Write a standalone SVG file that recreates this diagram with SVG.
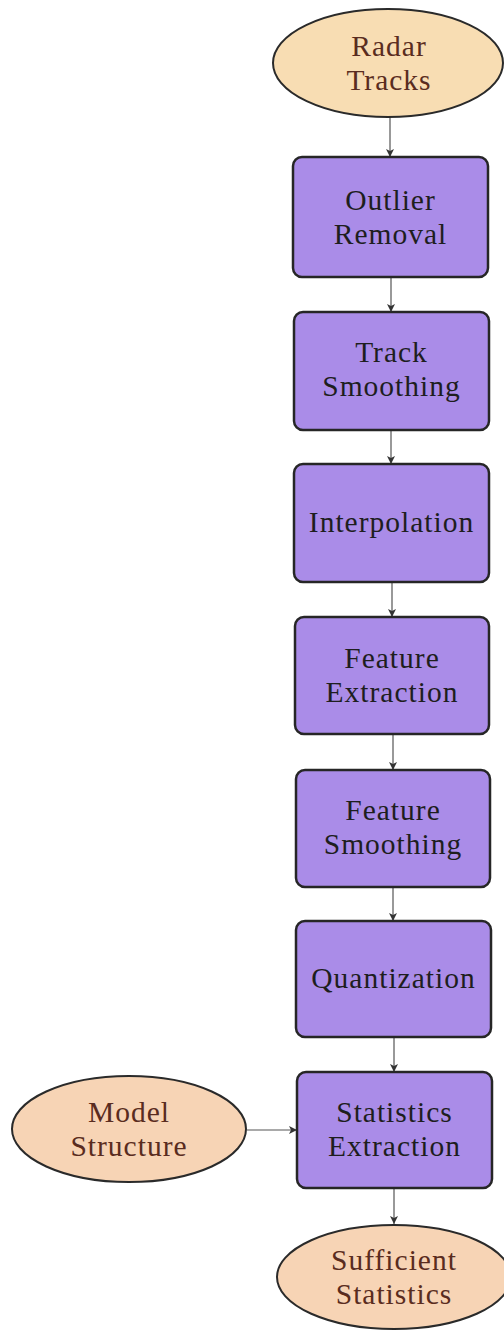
<svg xmlns="http://www.w3.org/2000/svg" width="504" height="1332" viewBox="0 0 504 1332">
  <style>
    .io { fill: #f8ddb3; stroke: #2a2a2a; stroke-width: 2; }
    .io2 { fill: #f7d4b5; stroke: #2a2a2a; stroke-width: 2; }
    .step { fill: #aa8ce8; stroke: #262626; stroke-width: 2.5; }
    .lbl { font-family: "Liberation Serif", "Times New Roman", "DejaVu Serif", serif; font-size: 29.5px; text-anchor: middle; letter-spacing: 1px; }
    .lio { fill: #5a2c20; }
    .lstep { fill: #1e1e1e; }
    .edge { stroke: #555; stroke-width: 1.2; fill: none; marker-end: url(#arr); }
  </style>
  <defs>
    <marker id="arr" viewBox="0 0 10 10" refX="10" refY="5" markerWidth="8" markerHeight="8" markerUnits="userSpaceOnUse" orient="auto">
      <path d="M0,0 L10,5 L0,10 L2.5,5 Z" fill="#333"/>
    </marker>
  </defs>

  <g id="connectors">
    <line class="edge" x1="390" y1="117" x2="390" y2="157"/>
    <line class="edge" x1="391" y1="278" x2="391" y2="312"/>
    <line class="edge" x1="391" y1="431" x2="391" y2="464"/>
    <line class="edge" x1="392" y1="583" x2="392" y2="617"/>
    <line class="edge" x1="393" y1="735" x2="393" y2="770"/>
    <line class="edge" x1="393" y1="888" x2="393" y2="921"/>
    <line class="edge" x1="394" y1="1038" x2="394" y2="1072"/>
    <line class="edge" x1="394" y1="1188" x2="394" y2="1224"/>
    <line class="edge" x1="247" y1="1130" x2="297" y2="1130"/>
  </g>

  <g id="radar-tracks">
    <ellipse class="io" cx="388" cy="63" rx="115" ry="54"/>
    <text class="lbl lio" x="389" y="56">Radar</text>
    <text class="lbl lio" x="389" y="90">Tracks</text>
  </g>

  <g id="outlier-removal">
    <rect class="step" x="293" y="157" width="195" height="120" rx="9"/>
    <text class="lbl lstep" x="390.5" y="210">Outlier</text>
    <text class="lbl lstep" x="390.5" y="244">Removal</text>
  </g>

  <g id="track-smoothing">
    <rect class="step" x="294" y="312" width="195" height="118" rx="9"/>
    <text class="lbl lstep" x="391.5" y="362">Track</text>
    <text class="lbl lstep" x="391.5" y="396">Smoothing</text>
  </g>

  <g id="interpolation">
    <rect class="step" x="294" y="464" width="195" height="118" rx="9"/>
    <text class="lbl lstep" x="391.5" y="532">Interpolation</text>
  </g>

  <g id="feature-extraction">
    <rect class="step" x="295" y="617" width="194" height="117" rx="9"/>
    <text class="lbl lstep" x="392" y="668">Feature</text>
    <text class="lbl lstep" x="392" y="702">Extraction</text>
  </g>

  <g id="feature-smoothing">
    <rect class="step" x="296" y="770" width="194" height="117" rx="9"/>
    <text class="lbl lstep" x="393" y="820">Feature</text>
    <text class="lbl lstep" x="393" y="854">Smoothing</text>
  </g>

  <g id="quantization">
    <rect class="step" x="296" y="921" width="195" height="116" rx="9"/>
    <text class="lbl lstep" x="393.5" y="988">Quantization</text>
  </g>

  <g id="statistics-extraction">
    <rect class="step" x="297" y="1072" width="195" height="116" rx="9"/>
    <text class="lbl lstep" x="394.5" y="1122">Statistics</text>
    <text class="lbl lstep" x="394.5" y="1156">Extraction</text>
  </g>

  <g id="model-structure">
    <ellipse class="io2" cx="129" cy="1129" rx="117" ry="53"/>
    <text class="lbl lio" x="129" y="1122">Model</text>
    <text class="lbl lio" x="129" y="1156">Structure</text>
  </g>

  <g id="sufficient-statistics">
    <ellipse class="io2" cx="394" cy="1277" rx="117" ry="52"/>
    <text class="lbl lio" x="394" y="1270">Sufficient</text>
    <text class="lbl lio" x="394" y="1304">Statistics</text>
  </g>
</svg>
